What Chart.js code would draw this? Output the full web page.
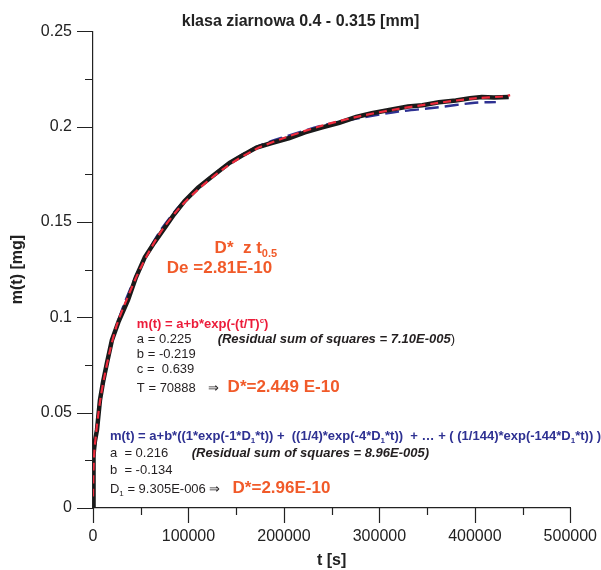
<!DOCTYPE html>
<html>
<head>
<meta charset="utf-8">
<script src="https://cdn.jsdelivr.net/npm/chart.js@4"></script>
<style>
  html, body { margin: 0; padding: 0; background: #fff; }
  #wrap { width: 601px; height: 570px; }
</style>
</head>
<body>
<div id="wrap"><canvas id="chart" width="601" height="570"></canvas></div>
<script>
const tData = [0, 300, 800, 2000, 4200, 7300, 10500, 14600, 19800, 27000, 36600, 45000, 54300, 64000, 75200, 85000, 96100, 110000, 125000, 143100, 157000, 171300, 188000, 205800, 222000, 240200, 258000, 275700, 292000, 310200, 330000, 345000, 362400, 380000, 395000, 407300, 420000, 435500];
const mData = [0, 0.012, 0.028, 0.035, 0.041, 0.0566, 0.066, 0.076, 0.088, 0.098, 0.109, 0.121, 0.1315, 0.139, 0.147, 0.154, 0.161, 0.168, 0.174, 0.181, 0.185, 0.189, 0.1915, 0.194, 0.197, 0.1996, 0.202, 0.205, 0.207, 0.2087, 0.2105, 0.2112, 0.2127, 0.2137, 0.2148, 0.2155, 0.2153, 0.2155];

// stretched exponential fit (red dashed)
const tRed = [0, 500, 1500, 3000, 5000, 8000, 12000, 18000, 25000, 35000, 50000, 70000, 90000, 110000, 140000, 170000, 200000, 240000, 280000, 320000, 360000, 400000, 430000, 437000];
const mRed = [0.006, 0.02, 0.03, 0.038, 0.047, 0.058, 0.069, 0.083, 0.096, 0.109, 0.126, 0.144, 0.157, 0.167, 0.179, 0.188, 0.194, 0.2005, 0.2055, 0.2093, 0.2123, 0.2148, 0.2158, 0.2165];

// diffusion series fit (blue dashed)
const tBlue = [0, 500, 1500, 3000, 5000, 8000, 12000, 18000, 25000, 35000, 50000, 70000, 90000, 110000, 140000, 170000, 200000, 240000, 280000, 320000, 360000, 400000, 422000];
const mBlue = [0.006, 0.018, 0.029, 0.038, 0.047, 0.058, 0.069, 0.083, 0.096, 0.110, 0.127, 0.145, 0.158, 0.168, 0.180, 0.189, 0.1945, 0.2005, 0.2045, 0.2078, 0.2100, 0.2125, 0.2128];

const xMajor = 100000, xMinor = 50000;
const yMajor = 0.05, yMinor = 0.025;

const FONT = "'Liberation Sans', Arial, sans-serif";
const ORANGE = '#f15a29', RED = '#ec1c3a', BLUE = '#2e3192', GREY = '#231f20';

const toXY = (ts, ms) => ts.map((t, i) => ({ x: t, y: ms[i] }));

const big = 'bold 17px ' + FONT, txt = '13px ' + FONT, frm = 'bold 13px ' + FONT, res = 'italic bold 13px ' + FONT;

// text blocks: anchor in data coords, parts drawn left to right
const notes = [
  { t: 127400, m: 0.1336, parts: [
    { text: 'D*  z t', font: big, color: ORANGE },
    { text: '0.5', font: 'bold 11px ' + FONT, color: ORANGE, dy: 4 }] },
  { t: 77300, m: 0.1232, parts: [
    { text: 'De =2.81E-10', font: big, color: ORANGE }] },
  { t: 45960, m: 0.0943, parts: [
    { text: 'm(t) = a+b*exp(-(t/T)', font: frm, color: RED },
    { text: 'c', font: 'bold 8px ' + FONT, color: RED, dy: -5 },
    { text: ')', font: frm, color: RED }] },
  { t: 45960, m: 0.0865, parts: [{ text: 'a = 0.225', font: txt, color: GREY }] },
  { t: 130560, m: 0.0865, parts: [
    { text: '(Residual sum of squares = 7.10E-005', font: res, color: GREY },
    { text: ')', font: txt, color: GREY }] },
  { t: 45960, m: 0.0786, parts: [{ text: 'b = -0.219', font: txt, color: GREY }] },
  { t: 45960, m: 0.0708, parts: [{ text: 'c =  0.639', font: txt, color: GREY }] },
  { t: 45960, m: 0.0608, parts: [{ text: 'T = 70888', font: txt, color: GREY }] },
  { t: 120100, m: 0.0608, parts: [{ text: '\u21D2', font: txt, color: GREY }] },
  { t: 141000, m: 0.0608, parts: [{ text: 'D*=2.449 E-10', font: big, color: ORANGE }] },
  { t: 17760, m: 0.0356, parts: [
    { text: 'm(t) = a+b*((1*exp(-1*D', font: frm, color: BLUE },
    { text: '1', font: 'bold 8px ' + FONT, color: BLUE, dy: 3 },
    { text: '*t)) +  ((1/4)*exp(-4*D', font: frm, color: BLUE },
    { text: '1', font: 'bold 8px ' + FONT, color: BLUE, dy: 3 },
    { text: '*t))  + \u2026 + ( (1/144)*exp(-144*D', font: frm, color: BLUE },
    { text: '1', font: 'bold 8px ' + FONT, color: BLUE, dy: 3 },
    { text: '*t)) )', font: frm, color: BLUE }] },
  { t: 17760, m: 0.0267, parts: [{ text: 'a  = 0.216', font: txt, color: GREY }] },
  { t: 103400, m: 0.0267, parts: [
    { text: '(Residual sum of squares = 8.96E-005)', font: res, color: GREY }] },
  { t: 17760, m: 0.0178, parts: [{ text: 'b  = -0.134', font: txt, color: GREY }] },
  { t: 17760, m: 0.0079, parts: [
    { text: 'D', font: txt, color: GREY },
    { text: '1', font: '8px ' + FONT, color: GREY, dy: 3 },
    { text: ' = 9.305E-006 \u21D2', font: txt, color: GREY }] },
  { t: 146200, m: 0.0079, parts: [{ text: 'D*=2.96E-10', font: big, color: ORANGE }] }
];

// tick marks: long for major, short for minor
const tickMarks = {
  id: 'tickMarks',
  afterDraw(chart) {
    const { ctx, scales: { x, y } } = chart;
    ctx.save();
    ctx.strokeStyle = '#222';
    ctx.lineWidth = 1.2;
    ctx.beginPath();
    x.ticks.forEach(tk => {
      const px = Math.round(x.getPixelForValue(tk.value)) + 0.5;
      const len = Math.round(tk.value / xMinor) % 2 === 0 ? 15 : 7;
      ctx.moveTo(px, y.bottom);
      ctx.lineTo(px, y.bottom + len);
    });
    y.ticks.forEach(tk => {
      const py = Math.round(y.getPixelForValue(tk.value)) + 0.5;
      const len = Math.round(tk.value / yMinor) % 2 === 0 ? 16 : 8;
      ctx.moveTo(x.left, py);
      ctx.lineTo(x.left - len, py);
    });
    ctx.stroke();
    ctx.restore();
  }
};

const notesPlugin = {
  id: 'notes',
  afterDatasetsDraw(chart) {
    const { ctx, scales: { x, y } } = chart;
    ctx.save();
    ctx.textBaseline = 'alphabetic';
    ctx.textAlign = 'left';
    notes.forEach(n => {
      let px = x.getPixelForValue(n.t);
      const py = y.getPixelForValue(n.m);
      n.parts.forEach(p => {
        ctx.font = p.font;
        ctx.fillStyle = p.color;
        ctx.fillText(p.text, px, py + (p.dy || 0));
        px += ctx.measureText(p.text).width;
      });
    });
    ctx.restore();
  }
};

new Chart(document.getElementById('chart'), {
  type: 'line',
  data: {
    datasets: [
      { label: 'fit exp', data: toXY(tRed, mRed), borderColor: '#ee2a3c', borderWidth: 2.2, borderDash: [8, 5], pointRadius: 0, fill: false, tension: 0.3, order: 0 },
      { label: 'pomiar', data: toXY(tData, mData), borderColor: '#1a1a1a', borderWidth: 4.5, pointRadius: 0, fill: false, tension: 0, order: 1 },
      { label: 'fit dyfuzja', data: toXY(tBlue, mBlue), borderColor: '#2e3192', borderWidth: 2.4, borderDash: [14, 6], pointRadius: 0, fill: false, tension: 0.3, order: 2 }
    ]
  },
  options: {
    responsive: false,
    animation: false,
    layout: { padding: { left: 0, right: 0, top: 0, bottom: 0 } },
    plugins: {
      legend: { display: false },
      tooltip: { enabled: false },
      title: {
        display: true,
        text: 'klasa ziarnowa 0.4 - 0.315 [mm]',
        color: '#222',
        font: { family: FONT, size: 16, weight: 'bold', lineHeight: 1.2 },
        padding: { top: 12, bottom: 0 }
      }
    },
    scales: {
      x: {
        type: 'linear',
        min: 0, max: 500000,
        afterFit: s => { s.height = 62; },
        ticks: {
          stepSize: xMinor,
          color: '#222',
          font: { family: FONT, size: 16 },
          padding: 4,
          maxRotation: 0,
          autoSkip: false,
          callback: v => (Math.round(v / xMinor) % 2 === 0 ? String(v) : '')
        },
        grid: { display: true, drawOnChartArea: false, drawTicks: true, tickLength: 15, tickColor: 'rgba(0,0,0,0)' },
        border: { display: true, color: '#222', width: 1.2 },
        title: { display: true, text: 't [s]', color: '#222', font: { family: FONT, size: 16, weight: 'bold' }, padding: { top: 3, bottom: 0 } }
      },
      y: {
        type: 'linear',
        min: 0, max: 0.25,
        afterFit: s => { s.width = 93; },
        ticks: {
          stepSize: yMinor,
          color: '#222',
          font: { family: FONT, size: 16 },
          padding: 5,
          autoSkip: false,
          callback: v => (Math.round(v / yMinor) % 2 === 0 ? String(+v.toFixed(3)) : '')
        },
        grid: { display: true, drawOnChartArea: false, drawTicks: true, tickLength: 16, tickColor: 'rgba(0,0,0,0)' },
        border: { display: true, color: '#222', width: 1.2 },
        title: { display: true, text: 'm(t) [mg]', color: '#222', font: { family: FONT, size: 16, weight: 'bold' }, padding: { top: 8, bottom: 0 } }
      }
    }
  },
  plugins: [tickMarks, notesPlugin]
});
</script>
</body>
</html>
